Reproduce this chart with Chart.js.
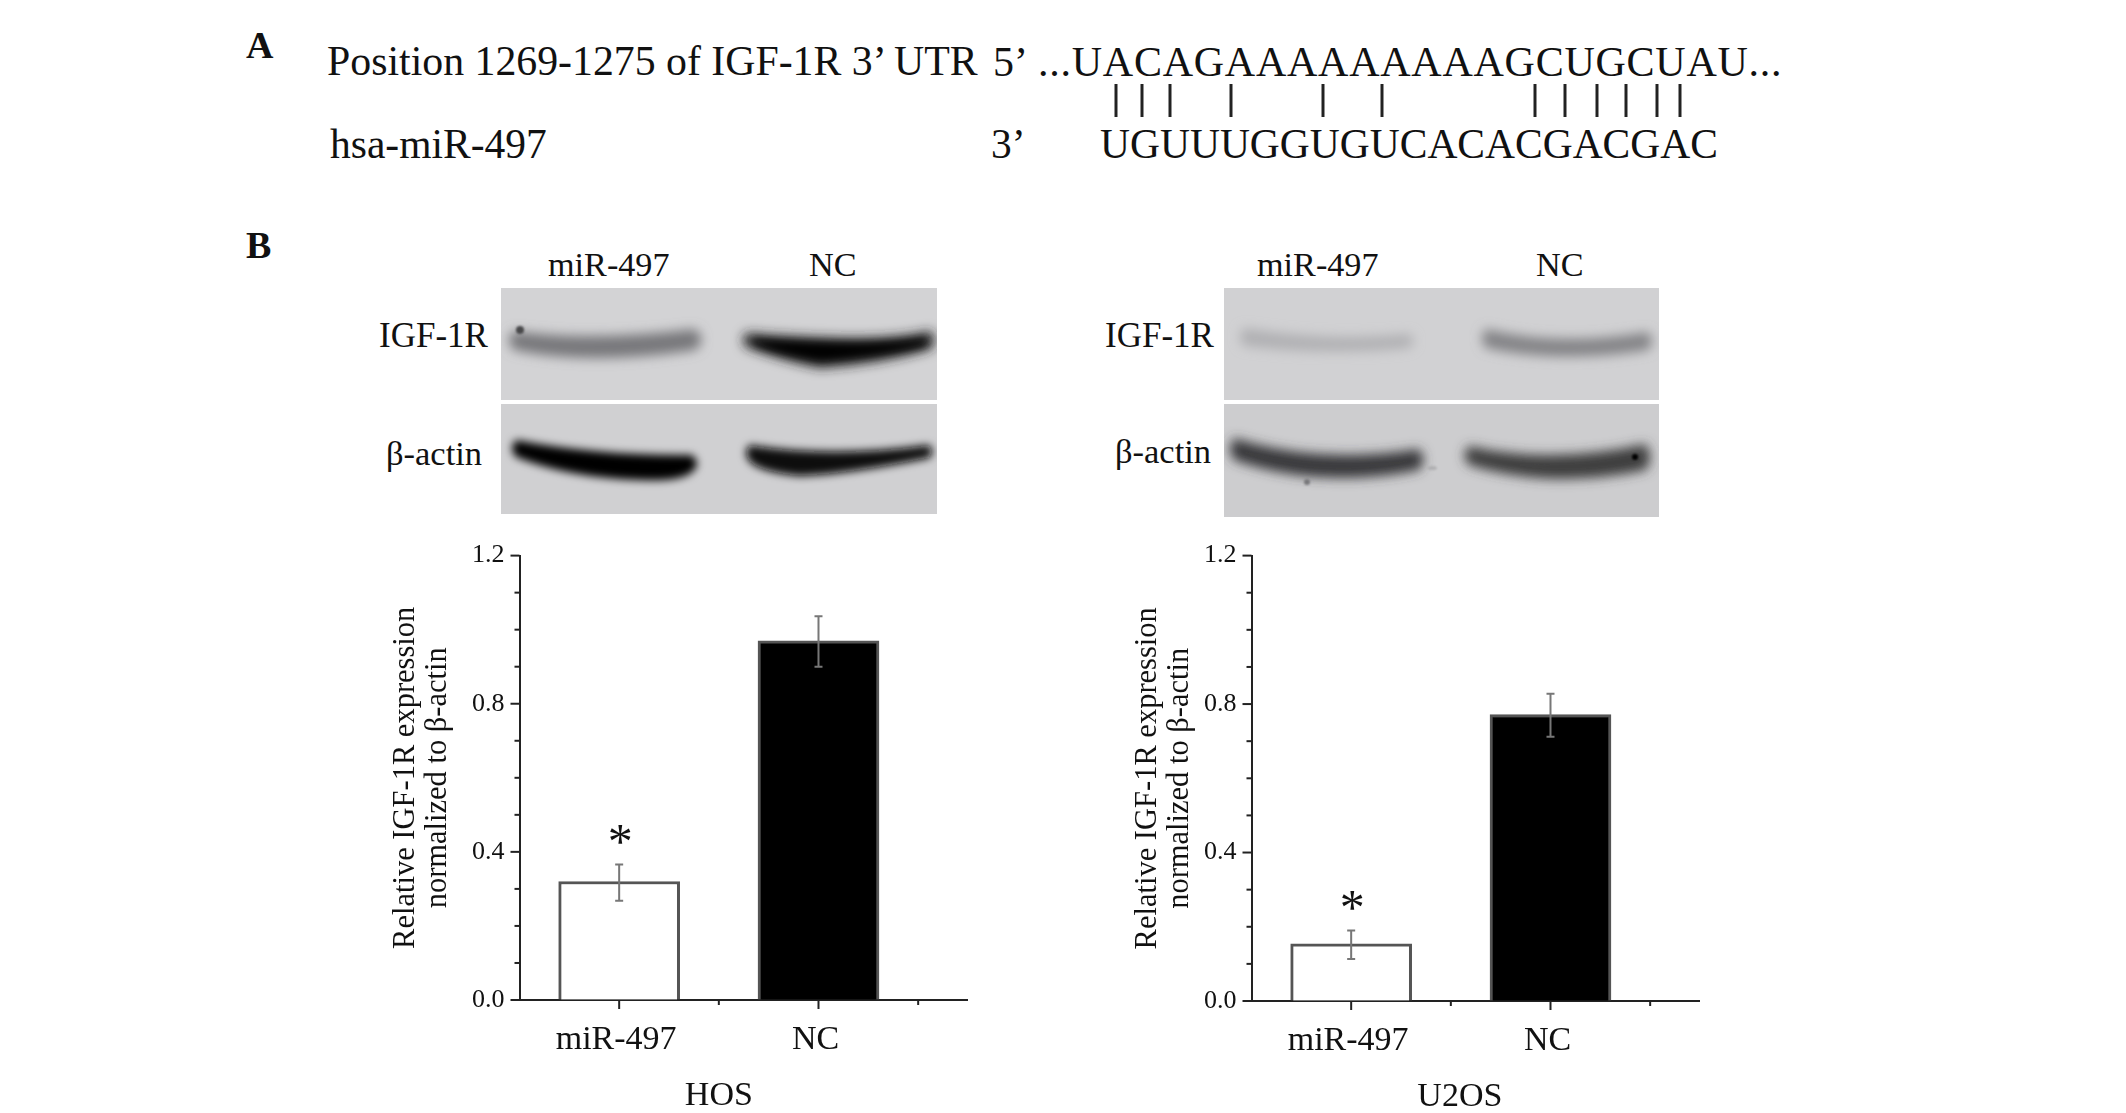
<!DOCTYPE html>
<html><head><meta charset="utf-8">
<style>
html,body{margin:0;padding:0;background:#fff;width:2126px;height:1113px;overflow:hidden}
body{position:relative;font-family:"Liberation Serif",serif;color:#111}
.t{position:absolute;white-space:pre;line-height:1;transform-origin:0 0}
canvas{position:absolute}
svg{position:absolute;left:0;top:0}
</style>
<script src="https://cdn.jsdelivr.net/npm/chart.js@4"></script>
</head><body>
<svg width="2126" height="1113" viewBox="0 0 2126 1113">
<defs>
<filter id="b6" x="-30%" y="-100%" width="160%" height="300%"><feGaussianBlur stdDeviation="6"/></filter>
<filter id="b3" x="-30%" y="-100%" width="160%" height="300%"><feGaussianBlur stdDeviation="4"/></filter>
<filter id="b1" x="-100%" y="-100%" width="300%" height="300%"><feGaussianBlur stdDeviation="1.2"/></filter>
<clipPath id="c1"><rect x="501" y="288" width="436" height="112"/></clipPath>
<clipPath id="c2"><rect x="501" y="404" width="436" height="110"/></clipPath>
<clipPath id="c3"><rect x="1224" y="288" width="435" height="112"/></clipPath>
<clipPath id="c4"><rect x="1224" y="404" width="435" height="113"/></clipPath>
</defs>
<rect x="501" y="288" width="436" height="112" fill="#d3d3d5"/>
<rect x="501" y="404" width="436" height="110" fill="#d0d0d2"/>
<rect x="1224" y="288" width="435" height="112" fill="#d1d1d3"/>
<rect x="1224" y="404" width="435" height="113" fill="#cdcdcf"/>
<g clip-path="url(#c1)">
<path filter="url(#b6)" fill="#77777a" d="M514 331 Q590 342 695 329 Q708 340 695 350 Q590 366 514 350 Q504 340 514 331Z"/>
<circle cx="520" cy="330" r="4" fill="#4a4a4c" filter="url(#b1)"/>
<path filter="url(#b6)" fill="#222224" d="M746 333 Q810 338 860 338 Q900 338 931 331 Q938 340 931 349 Q880 364 820 368 Q780 360 746 347 Q740 340 746 333Z"/>
<path filter="url(#b3)" fill="#050506" d="M755 340 Q810 344 860 344 Q900 343 925 339 L925 345 Q880 356 820 360 Q780 354 755 344Z"/>
</g>
<g clip-path="url(#c2)">
<path filter="url(#b3)" fill="#050505" d="M516 440 Q600 456 692 455 Q702 464 692 472 Q680 482 640 480 Q570 478 516 457 Q508 448 516 440Z"/>
<path filter="url(#b3)" fill="#070707" d="M750 445 Q830 458 929 445 Q936 452 929 458 Q850 474 800 476 Q760 472 750 462 Q742 452 750 445Z"/>
</g>
<g clip-path="url(#c3)">
<path filter="url(#b6)" fill="#b0b0b3" d="M1244 328 Q1330 342 1409 334 Q1418 341 1409 348 Q1330 356 1244 346 Q1236 337 1244 328Z"/>
<path filter="url(#b6)" fill="#838386" d="M1486 329 Q1560 347 1648 332 Q1656 341 1648 350 Q1560 364 1486 348 Q1478 338 1486 329Z"/>
</g>
<g clip-path="url(#c4)">
<path filter="url(#b6)" fill="#38383a" d="M1234 438 Q1320 465 1419 449 Q1428 460 1419 470 Q1320 490 1234 460 Q1226 449 1234 438Z"/>
<path filter="url(#b6)" fill="#3c3c3e" d="M1469 446 Q1550 465 1646 444 Q1654 457 1646 470 Q1550 490 1469 465 Q1460 455 1469 446Z"/>
<circle cx="1635" cy="457" r="3" fill="#000" filter="url(#b1)"/>
<circle cx="1307" cy="482" r="3" fill="#77777a" filter="url(#b1)"/>
<ellipse cx="1432" cy="468" rx="5" ry="2" fill="#b0b0b2" filter="url(#b1)"/>
</g>
<g stroke="#222" stroke-width="3">
<line x1="1116" x2="1116" y1="84" y2="117"/><line x1="1142" x2="1142" y1="84" y2="117"/>
<line x1="1170" x2="1170" y1="84" y2="117"/><line x1="1231" x2="1231" y1="84" y2="117"/>
<line x1="1323" x2="1323" y1="84" y2="117"/><line x1="1382" x2="1382" y1="84" y2="117"/>
<line x1="1535" x2="1535" y1="84" y2="117"/><line x1="1565" x2="1565" y1="84" y2="117"/>
<line x1="1597" x2="1597" y1="84" y2="117"/><line x1="1626" x2="1626" y1="84" y2="117"/>
<line x1="1657" x2="1657" y1="84" y2="117"/><line x1="1680" x2="1680" y1="84" y2="117"/>
</g>
</svg>

<div class="t" style="left:246px;top:26px;font-size:38px;font-weight:bold">A</div>
<div class="t" style="left:246px;top:226px;font-size:38px;font-weight:bold">B</div>
<div class="t" style="left:327px;top:41px;font-size:41.8px">Position 1269-1275 of IGF-1R 3’ UTR</div>
<div class="t" style="left:993px;top:41px;font-size:42px">5’</div>
<div class="t" style="left:1038px;top:41px;font-size:42px;letter-spacing:0.75px">...UACAGAAAAAAAAAGCUGCUAU...</div>
<div class="t" style="left:330px;top:124px;font-size:41.5px">hsa-miR-497</div>
<div class="t" style="left:991px;top:124px;font-size:41.5px">3’</div>
<div class="t" style="left:1100px;top:124px;font-size:41.5px">UGUUUGGUGUCACACGACGAC</div>

<div class="t" style="left:548px;top:248px;font-size:34.2px">miR-497</div>
<div class="t" style="left:809px;top:248px;font-size:34.2px">NC</div>
<div class="t" style="left:379px;top:318px;font-size:35px">IGF-1R</div>
<div class="t" style="left:386px;top:436px;font-size:34.5px">β-actin</div>
<div class="t" style="left:1257px;top:248px;font-size:34.2px">miR-497</div>
<div class="t" style="left:1536px;top:248px;font-size:34.2px">NC</div>
<div class="t" style="left:1105px;top:318px;font-size:35px">IGF-1R</div>
<div class="t" style="left:1115px;top:434px;font-size:34.5px">β-actin</div>

<canvas id="hos" width="620" height="588" style="left:380px;top:525px"></canvas>
<canvas id="u2os" width="620" height="588" style="left:1112px;top:525px"></canvas>

<script>
const categories = ["miR-497", "NC"];
const categoryPositions = [1, 2];
const hosValues = [0.32, 0.97];
const hosErrUpper = [0.366, 1.036];
const hosErrLower = [0.268, 0.90];
const u2osValues = [0.154, 0.772];
const u2osErrUpper = [0.19, 0.828];
const u2osErrLower = [0.113, 0.712];
const yMajorTicks = [0, 0.4, 0.8, 1.2];
const significance = ["*", ""];
const FONT = "'Liberation Serif'";
const yTitle = ["Relative IGF-1R expression", "normalized to β-actin"];

Chart.defaults.animation = false;

const overlay = (errUp, errLow, name, nameDx, starDy) => ({
  id: 'overlay',
  afterDatasetsDraw(c) {
    const {ctx, scales: {x, y}} = c;
    ctx.save();
    ctx.strokeStyle = '#777';
    ctx.lineWidth = 2;
    categoryPositions.forEach((p, i) => {
      const px = x.getPixelForValue(p), t = y.getPixelForValue(errUp[i]), b = y.getPixelForValue(errLow[i]);
      ctx.beginPath();
      ctx.moveTo(px, t); ctx.lineTo(px, b);
      ctx.moveTo(px - 4, t); ctx.lineTo(px + 4, t);
      ctx.moveTo(px - 4, b); ctx.lineTo(px + 4, b);
      ctx.stroke();
      if (significance[i]) {
        ctx.fillStyle = '#111';
        ctx.font = `50px ${FONT}`;
        ctx.textAlign = 'center';
        ctx.textBaseline = 'alphabetic';
        ctx.fillText(significance[i], px + 1, t + starDy);
      }
    });
    ctx.strokeStyle = '#222';
    ctx.lineWidth = 2;
    x.ticks.forEach(t => {
      if (t.value <= x.min) return;
      const px = x.getPixelForValue(t.value), len = Number.isInteger(t.value) ? 9 : 5;
      ctx.beginPath(); ctx.moveTo(px, y.bottom); ctx.lineTo(px, y.bottom + len); ctx.stroke();
    });
    y.ticks.forEach(t => {
      const py = y.getPixelForValue(t.value);
      const major = yMajorTicks.some(v => Math.abs(v - t.value) < 1e-6);
      ctx.beginPath(); ctx.moveTo(x.left, py); ctx.lineTo(x.left - (major ? 9 : 5), py); ctx.stroke();
    });
    ctx.fillStyle = '#111';
    ctx.font = `34px ${FONT}`;
    ctx.textAlign = 'center';
    ctx.textBaseline = 'middle';
    ctx.fillText(name, x.getPixelForValue(1.5) + nameDx, y.bottom + 96);
    ctx.restore();
  }
});

function build(id, values, errUp, errLow, name, geom) {
  new Chart(document.getElementById(id), {
    type: 'bar',
    data: {
      datasets: [{
        data: categoryPositions.map((p, i) => ({x: p, y: values[i]})),
        backgroundColor: ['#ffffff', '#000000'],
        borderColor: ['#555555', '#555555'],
        borderWidth: 3,
        barThickness: 121
      }]
    },
    options: {
      responsive: false,
      layout: {padding: {left: 0, right: geom.right, top: 0, bottom: 0}},
      plugins: {legend: {display: false}, tooltip: {enabled: false}, title: {display: false}},
      scales: {
        x: {
          type: 'linear', min: 0.5, max: 2.745, offset: false,
          afterFit: s => { s.height = geom.bottomH; },
          grid: {drawOnChartArea: false, drawTicks: false, offset: false},
          border: {color: '#222', width: 2},
          ticks: {
            stepSize: 0.5, includeBounds: false, autoSkip: false, maxRotation: 0, padding: 20, labelOffset: -3,
            color: '#111', font: {family: FONT, size: 34},
            callback: v => { const i = categoryPositions.indexOf(v); return i >= 0 ? categories[i] : ''; }
          }
        },
        y: {
          min: 0, max: 1.2,
          afterFit: s => { s.width = geom.leftW; },
          grid: {drawOnChartArea: false, drawTicks: false},
          border: {color: '#222', width: 2},
          title: {display: true, text: yTitle, color: '#111', padding: {top: geom.titlePad, bottom: 0},
                  font: {family: FONT, size: 30.5, lineHeight: 1.05}},
          ticks: {
            stepSize: 0.1, autoSkip: false, padding: 15, color: '#111',
            font: {family: FONT, size: 26},
            callback: v => yMajorTicks.some(m => Math.abs(m - v) < 1e-6) ? Number(v).toFixed(1) : ''
          }
        }
      }
    },
    plugins: [overlay(errUp, errLow, name, geom.nameDx, geom.starDy)]
  });
}

build('hos', hosValues, hosErrUpper, hosErrLower, 'HOS',
  {leftW: 139.5, right: 33, bottomH: 113, nameDx: 0, starDy: -6, titlePad: 10});
build('u2os', u2osValues, u2osErrUpper, u2osErrLower, 'U2OS',
  {leftW: 139.5, right: 33, bottomH: 112, nameDx: 9, starDy: -6, titlePad: 20});
</script>
</body></html>
